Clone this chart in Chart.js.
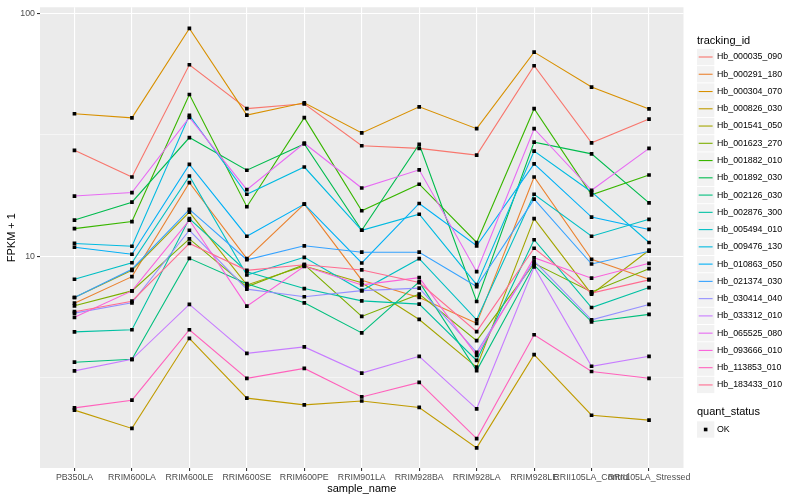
<!DOCTYPE html>
<html>
<head>
<meta charset="utf-8">
<script src="https://cdn.jsdelivr.net/npm/chart.js@4.4.1/dist/chart.umd.min.js"></script>
<style>
  html, body { margin: 0; padding: 0; background: #fff; }
  canvas { display: block; }
</style>
</head>
<body>
<canvas id="chart" width="800" height="500"></canvas>
<script>
const sampleNames = ['PB350LA', 'RRIM600LA', 'RRIM600LE', 'RRIM600SE', 'RRIM600PE', 'RRIM901LA',
    'RRIM928BA', 'RRIM928LA', 'RRIM928LE', 'RRII105LA_Control', 'RRII105LA_Stressed'];

const trackingIds = ['Hb_000035_090', 'Hb_000291_180', 'Hb_000304_070', 'Hb_000826_030', 'Hb_001541_050',
    'Hb_001623_270', 'Hb_001882_010', 'Hb_001892_030', 'Hb_002126_030', 'Hb_002876_300',
    'Hb_005494_010', 'Hb_009476_130', 'Hb_010863_050', 'Hb_021374_030', 'Hb_030414_040',
    'Hb_033312_010', 'Hb_065525_080', 'Hb_093666_010', 'Hb_113853_010', 'Hb_183433_010'];

const quantStatus = ['OK'];

// FPKM + 1, one value per sample
const hb_000035_090 = [27.3, 21.2, 61.4, 40.5, 42.4, 28.5, 27.8, 26.1, 60.8, 29.3, 36.7];
const hb_000291_180 = [6.42, 8.25, 20.1, 9.78, 16.4, 7.98, 6.77, 5.30, 21.2, 9.72, 8.05];
const hb_000304_070 = [38.6, 37.1, 86.6, 38.1, 42.8, 32.2, 41.2, 33.5, 69.2, 49.7, 40.4];
const hb_000826_030 = [2.33, 1.96, 4.60, 2.61, 2.45, 2.54, 2.39, 1.63, 3.94, 2.22, 2.12];
const hb_001541_050 = [6.77, 8.76, 15.2, 7.63, 9.13, 7.78, 5.50, 3.50, 14.3, 6.99, 10.6];
const hb_001623_270 = [6.26, 7.21, 11.8, 7.49, 9.24, 5.66, 6.99, 4.50, 9.36, 7.14, 8.90];
const hb_001882_010 = [13.0, 13.9, 46.3, 16.0, 37.2, 15.4, 19.8, 11.4, 40.5, 17.9, 21.6];
const hb_001892_030 = [14.1, 16.7, 30.8, 22.6, 29.0, 12.8, 28.9, 6.52, 29.5, 26.4, 16.6];
const hb_002126_030 = [3.67, 3.77, 9.81, 7.72, 6.44, 4.84, 7.85, 3.39, 9.21, 5.38, 5.77];
const hb_002876_300 = [4.89, 4.99, 14.3, 8.65, 7.37, 6.56, 6.36, 3.73, 11.7, 6.16, 7.44];
const hb_005494_010 = [8.05, 9.41, 21.4, 8.38, 9.91, 7.23, 9.78, 5.48, 18.0, 12.1, 14.2];
const hb_009476_130 = [11.3, 11.0, 38.0, 18.0, 23.3, 12.8, 14.9, 7.65, 27.1, 18.4, 11.4];
const hb_010863_050 = [10.9, 10.2, 23.9, 12.1, 16.4, 9.39, 16.5, 11.05, 24.0, 14.5, 12.9];
const hb_021374_030 = [6.77, 8.85, 15.6, 9.68, 11.05, 10.4, 10.4, 7.51, 17.2, 9.30, 10.5];
const hb_030414_040 = [5.84, 6.44, 12.8, 7.33, 6.82, 7.23, 7.40, 4.03, 9.57, 5.48, 6.34];
const hb_033312_010 = [3.38, 3.77, 6.34, 3.99, 4.24, 3.31, 3.88, 2.36, 9.04, 3.53, 3.88];
const hb_065525_080 = [17.7, 18.3, 37.3, 18.8, 29.2, 19.1, 22.7, 8.65, 33.5, 18.7, 27.8];
const hb_093666_010 = [5.61, 7.21, 14.1, 6.24, 9.10, 7.63, 8.17, 3.91, 9.87, 8.13, 9.36];
const hb_113853_010 = [2.38, 2.56, 4.99, 3.15, 3.46, 2.64, 3.03, 1.78, 4.76, 3.36, 3.15];
const hb_183433_010 = [5.92, 6.54, 11.3, 8.76, 9.24, 8.79, 7.80, 4.90, 10.8, 7.06, 8.00];

const seriesValues = [hb_000035_090, hb_000291_180, hb_000304_070, hb_000826_030, hb_001541_050,
    hb_001623_270, hb_001882_010, hb_001892_030, hb_002126_030, hb_002876_300,
    hb_005494_010, hb_009476_130, hb_010863_050, hb_021374_030, hb_030414_040,
    hb_033312_010, hb_065525_080, hb_093666_010, hb_113853_010, hb_183433_010];

const yMajorTicks = [10, 100];
const yMinorTicks = [3.162, 31.62];

// ggplot default hue palette, 20 levels
const palette = ['#F8766D', '#EA8331', '#D89000', '#C09B00', '#A3A500', '#7CAE00', '#39B600', '#00BB4E',
    '#00BF7D', '#00C1A3', '#00BFC4', '#00BAE0', '#00B0F6', '#35A2FF', '#9590FF', '#C77CFF',
    '#E76BF3', '#FA62DB', '#FF62BC', '#FF6C90'];

const fontFamily = '"Liberation Sans", Arial, sans-serif';

function toPoints(vals) {
    return vals.map((v, j) => ({ x: j, y: v }));
}

const lineSets = seriesValues.map((vals, i) => ({
    label: trackingIds[i],
    data: toPoints(vals),
    borderColor: palette[i],
    borderWidth: 1.1,
    pointRadius: 0,
    fill: false,
    tension: 0,
    order: 100 - i
}));

const pointSets = seriesValues.map((vals, i) => ({
    label: trackingIds[i] + ' ' + quantStatus[0],
    data: toPoints(vals),
    showLine: false,
    pointStyle: 'rect',
    pointRadius: 2.6,
    backgroundColor: '#000',
    borderWidth: 0,
    order: 0
}));

const panelPlugin = {
    id: 'panel',
    beforeDraw(chart) {
        const { ctx, chartArea: a } = chart;
        ctx.save();
        ctx.fillStyle = '#EBEBEB';
        ctx.fillRect(a.left, a.top, a.right - a.left, a.bottom - a.top);
        ctx.restore();
    }
};

const legendPlugin = {
    id: 'ggLegend',
    afterDraw(chart) {
        const ctx = chart.ctx;
        const x0 = 697, key = 17.3, step = 17.26, textX = 717;
        ctx.save();
        ctx.textBaseline = 'middle';
        ctx.textAlign = 'left';
        ctx.fillStyle = '#000';
        ctx.font = '11px ' + fontFamily;
        ctx.fillText('tracking_id', x0, 40.5);

        trackingIds.forEach((id, i) => {
            const cy = 57 + i * step;
            ctx.fillStyle = '#F2F2F2';
            ctx.fillRect(x0, cy - key / 2 + 0.5, key, key - 1);
            ctx.strokeStyle = palette[i];
            ctx.lineWidth = 1.1;
            ctx.beginPath();
            ctx.moveTo(x0 + 1.7, cy);
            ctx.lineTo(x0 + key - 1.7, cy);
            ctx.stroke();
            ctx.fillStyle = '#000';
            ctx.font = '8.8px ' + fontFamily;
            ctx.fillText(id, textX, cy);
        });

        ctx.font = '11px ' + fontFamily;
        ctx.fillText('quant_status', x0, 412);
        quantStatus.forEach((s, i) => {
            const cy = 429.5 + i * step;
            ctx.fillStyle = '#F2F2F2';
            ctx.fillRect(x0, cy - key / 2 + 0.5, key, key - 1);
            ctx.fillStyle = '#000';
            ctx.fillRect(x0 + key / 2 - 1.8, cy - 1.8, 3.6, 3.6);
            ctx.font = '8.8px ' + fontFamily;
            ctx.fillText(s, textX, cy);
        });
        ctx.restore();
    }
};

new Chart(document.getElementById('chart'), {
    type: 'line',
    data: { datasets: [...lineSets, ...pointSets] },
    options: {
        responsive: false,
        animation: false,
        devicePixelRatio: 1,
        layout: { autoPadding: false, padding: { left: 0, top: 5, right: 116.5, bottom: 0 } },
        plugins: {
            legend: { display: false },
            tooltip: { enabled: false }
        },
        scales: {
            x: {
                type: 'linear',
                min: -0.6,
                max: sampleNames.length - 1 + 0.6,
                bounds: 'data',
                afterBuildTicks: s => { s.ticks = sampleNames.map((_, i) => ({ value: i })); },
                afterFit: s => { s.height = 32; },
                ticks: {
                    autoSkip: false,
                    maxRotation: 0,
                    minRotation: 0,
                    padding: 1.5,
                    color: '#4D4D4D',
                    font: { size: 8.8, family: fontFamily },
                    callback: v => sampleNames[v] ?? ''
                },
                grid: { color: '#FFFFFF', lineWidth: 1.1, tickColor: '#333333', tickLength: 3 },
                border: { display: false },
                title: {
                    display: true, text: 'sample_name', color: '#000',
                    font: { size: 11, family: fontFamily },
                    padding: { top: 0, bottom: 4 }
                }
            },
            y: {
                type: 'logarithmic',
                min: 1.347,
                max: 105.8,
                bounds: 'data',
                afterBuildTicks: s => {
                    s.ticks = [...yMinorTicks, ...yMajorTicks].sort((a, b) => a - b).map(v => ({ value: v }));
                },
                afterFit: s => { s.width = 40; },
                ticks: {
                    autoSkip: false,
                    padding: 2,
                    color: '#4D4D4D',
                    font: { size: 8.8, family: fontFamily },
                    callback: v => yMajorTicks.includes(v) ? String(v) : ''
                },
                grid: {
                    color: '#FFFFFF',
                    lineWidth: c => yMajorTicks.includes(c.tick?.value) ? 1.1 : 0.5,
                    tickColor: c => yMajorTicks.includes(c.tick?.value) ? '#333333' : 'rgba(0,0,0,0)',
                    tickLength: 3
                },
                border: { display: false },
                title: {
                    display: true, text: 'FPKM + 1', color: '#000',
                    font: { size: 11, family: fontFamily },
                    padding: { top: 5, bottom: 5 }
                }
            }
        }
    },
    plugins: [panelPlugin, legendPlugin]
});
</script>
</body>
</html>
